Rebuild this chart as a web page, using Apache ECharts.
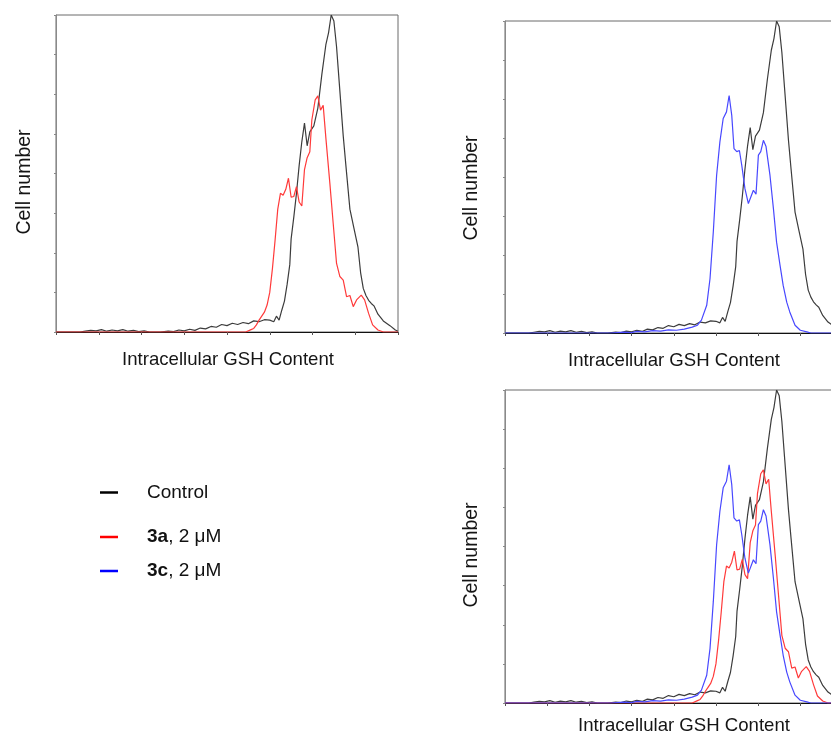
<!DOCTYPE html>
<html>
<head>
<meta charset="utf-8">
<script src="https://cdn.jsdelivr.net/npm/echarts@6/dist/echarts.min.js"></script>
<style>
html,body{margin:0;padding:0;background:#fff;overflow:hidden;width:831px;height:735px;}
#chart{width:843px;height:735px;}
</style>
</head>
<body>
<div id="chart"></div>
<script>
// x = fluorescence channel (0-256), y = cell count (0-800)
const xTicks = [0, 32, 64, 96, 128, 160, 192, 224, 256];
const yTicks = [0, 100, 200, 300, 400, 500, 600, 700, 800];
const seriesNames = ['Control', '3a, 2 μM', '3c, 2 μM'];
const xLabel = 'Intracellular GSH Content';
const yLabel = 'Cell number';

const controlData = [[0,0],[18,0],[22,2],[26,4],[30,3],[34,6],[38,2],[42,5],[46,3],[50,6],[54,2],[58,4],[62,1],[66,3],[70,0],[78,0],[84,2],[88,1],[92,5],[96,3],[100,7],[104,4],[108,10],[112,8],[116,14],[120,12],[124,19],[128,16],[132,22],[136,19],[140,24],[144,21],[148,28],[152,26],[156,31],[160,30],[163,26],[165,40],[167,30],[169,55],[171,78],[173,120],[175,170],[176,235],[178,290],[180,350],[182,420],[184,480],[186,527],[188,470],[190,505],[193,520],[196,565],[199,650],[202,725],[204,755],[206,800],[208,785],[210,720],[212,630],[215,495],[217,420],[220,310],[223,262],[226,215],[228,150],[230,110],[232,92],[234,80],[236,72],[238,66],[241,45],[245,28],[250,16],[254,5],[256,2]];

const data3a = [[0,0],[142,0],[146,6],[148,9],[150,18],[152,30],[154,40],[156,50],[158,68],[160,100],[162,160],[164,232],[166,310],[168,350],[170,345],[172,360],[174,388],[176,340],[178,342],[180,367],[182,328],[184,318],[186,410],[188,440],[190,455],[191.5,535],[194,586],[196,596],[198,560],[200,572],[202,490],[205,375],[207.5,274],[210,173],[212.5,140],[215,131],[217.5,89],[220,92],[222.5,64],[225,81],[228.5,93],[231,81],[234,47],[237,18],[241,5],[245,0],[256,0]];

const data3c = [[0,0],[80,0],[90,2],[96,1],[100,4],[106,3],[112,6],[118,5],[124,8],[130,7],[136,10],[142,15],[146,20],[149,33],[153,71],[155.5,139],[158,259],[160.5,404],[163,490],[165.5,550],[168,567],[170,609],[172,558],[173.7,473],[175.8,465],[177.8,468],[179.6,430],[182,370],[184.6,332],[186,336],[188.4,366],[190.4,356],[192.2,456],[194,465],[196,494],[198,478],[201,404],[203.6,319],[206,233],[208.6,174],[211,122],[213.7,79],[216,54],[220,20],[224,7],[229,3],[232,0],[256,0]];

const colControl = '#3c3c3c', colA = '#ff3a3a', colC = '#4848ff';
const FONT = 'Liberation Sans, Arial, sans-serif';

const chart = echarts.init(document.getElementById('chart'), null, {renderer:'canvas', width:843, height:735});

const grids = [
  {left:56, top:15, width:342, height:317},
  {left:505, top:21, width:337.5, height:312},
  {left:505, top:390, width:337.5, height:313}
].map(g => Object.assign({show:true, borderColor:'#6a6a6a', borderWidth:1, backgroundColor:'transparent'}, g));

function xAx(i){
  return {type:'value', gridIndex:i, min:xTicks[0], max:xTicks[xTicks.length-1], interval:xTicks[1]-xTicks[0],
    axisLine:{show:true, onZero:false, lineStyle:{color:'#111', width:1.2}},
    axisTick:{show:true, inside:false, length:3, lineStyle:{color:'#555'}},
    axisLabel:{show:false}, splitLine:{show:false}};
}
function yAx(i){
  return {type:'value', gridIndex:i, min:yTicks[0], max:yTicks[yTicks.length-1], interval:yTicks[1]-yTicks[0],
    axisLine:{show:true, lineStyle:{color:'#8a8a8a', width:1}},
    axisTick:{show:true, inside:false, length:2, lineStyle:{color:'#888'}},
    axisLabel:{show:false}, splitLine:{show:false}};
}
function line(name, data, color, i, z){
  return {type:'line', name:name, xAxisIndex:i, yAxisIndex:i, data:data, symbol:'none', smooth:false,
    lineStyle:{color:color, width:1.2}, itemStyle:{color:color}, z:z||2, silent:true, animation:false};
}

function legendFor(name, color, centerY){
  return {data:[name], left:100, top:centerY-9, padding:0, orient:'vertical', selectedMode:false,
    icon:'rect', itemWidth:18, itemHeight:2.5,
    itemStyle:{color:color, borderWidth:0}, lineStyle:{width:0},
    formatter:function(n){
      if (n.indexOf('3a')===0) return '{b|3a}{n|, 2 μM}';
      if (n.indexOf('3c')===0) return '{b|3c}{n|, 2 μM}';
      return '{n|' + n + '}';
    },
    textStyle:{padding:[0,0,0,24], rich:{
      b:{fontFamily:FONT, fontSize:19, fontWeight:'bold', color:'#111', lineHeight:22},
      n:{fontFamily:FONT, fontSize:19, color:'#111', lineHeight:22}
    }}};
}

function txt(x, y, text, rot){
  return {type:'text', x:x, y:y, rotation:rot||0, silent:true,
    style:{text:text, fontFamily:FONT, fontSize:rot?19.5:18.6, fill:'#151515', align:'center', verticalAlign:'middle'}};
}

chart.setOption({
  animation:false,
  backgroundColor:'#fff',
  grid:grids,
  xAxis:[xAx(0), xAx(1), xAx(2)],
  yAxis:[yAx(0), yAx(1), yAx(2)],
  legend:[
    legendFor(seriesNames[0], '#000', 492),
    legendFor(seriesNames[1], '#ff0000', 536.5),
    legendFor(seriesNames[2], '#0000ff', 570.5)
  ],
  series:[
    line(seriesNames[0], controlData, colControl, 0, 2),
    line(seriesNames[1], data3a, colA, 0, 3),
    line(seriesNames[0], controlData, colControl, 1, 2),
    line(seriesNames[2], data3c, colC, 1, 3),
    line(seriesNames[0], controlData, colControl, 2, 2),
    line(seriesNames[1], data3a, colA, 2, 3),
    line(seriesNames[2], data3c, colC, 2, 4)
  ],
  graphic:[
    txt(228, 360, xLabel),
    txt(674, 360.5, xLabel),
    txt(684, 726, xLabel),
    txt(25, 182, yLabel, Math.PI/2),
    txt(472, 188, yLabel, Math.PI/2),
    txt(472, 555, yLabel, Math.PI/2)
  ]
});
</script>
</body>
</html>
